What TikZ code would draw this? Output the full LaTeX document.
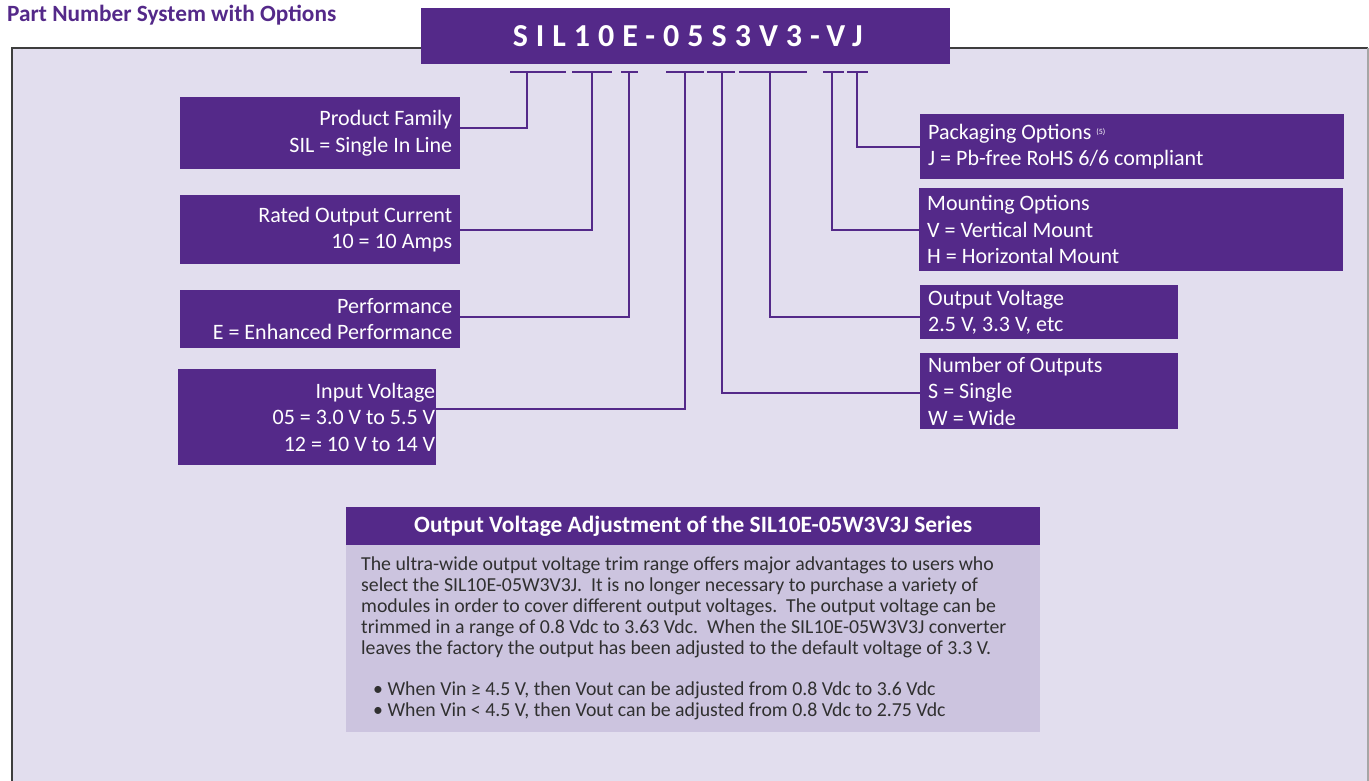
\documentclass[tikz,border=0pt]{standalone}
\usepackage{fontspec}
\setmainfont{Carlito}
\definecolor{pnpurple}{HTML}{542989}
\definecolor{pnbg}{HTML}{E2DEEE}
\definecolor{pnbody}{HTML}{CCC4DF}
\definecolor{pnframe}{HTML}{3E3E3E}
\definecolor{pntext}{HTML}{303030}
\newcommand{\boxfont}{\fontsize{22}{26.5}\selectfont}
\begin{document}
\begin{tikzpicture}[x=1pt,y=-1pt,
  conn/.style={draw=pnpurple, line width=2.4pt},
  lbox/.style={fill=pnpurple, text=white, font=\boxfont, align=right, anchor=north west, inner xsep=8pt, inner ysep=0pt,
    execute at begin node={\spaceskip=\fontdimen2\font\xspaceskip=\fontdimen2\font\relax}},
  rbox/.style={fill=pnpurple, text=white, font=\boxfont, align=left, anchor=north west, inner xsep=8pt, inner ysep=0pt,
    execute at begin node={\spaceskip=\fontdimen2\font\xspaceskip=\fontdimen2\font\relax}}]
\useasboundingbox (0,0) rectangle (1369,780);
% frame
\begin{scope}
\clip (0,0) rectangle (1369,780);
\fill[pnbg] (12,48) rectangle (1368,800);
\draw[pnframe, line width=2.6pt] (12,800) -- (12,48) -- (1368,48);
\draw[gray!70, line width=1.3pt] (1368,48) -- (1368,800);
\end{scope}
% title
\node[anchor=west, inner sep=0, text=pnpurple, font=\bfseries\fontsize{23.3}{26}\selectfont] (title) at (7,15) {Part Number System with Options};
% part number banner
\node[fill=pnpurple, text=white, anchor=north west, inner sep=0, minimum width=529pt, minimum height=56pt,
  font=\bfseries\fontsize{32}{36}\selectfont\addfontfeature{LetterSpace=25}] (pn) at (421,8) {\hspace*{4pt}SIL10E-05S3V3-VJ};
% underline coordinates
\coordinate (u1) at (527,72); \coordinate (u2) at (592,72); \coordinate (u3) at (629,72); \coordinate (u4) at (685,72);
\coordinate (u5) at (722,72); \coordinate (u6) at (770,72); \coordinate (u7) at (832,72); \coordinate (u8) at (857,72);
\coordinate (a1) at (510,72); \coordinate (b1) at (566,72);
\coordinate (a2) at (572,72); \coordinate (b2) at (612,72);
\coordinate (a3) at (621,72); \coordinate (b3) at (638,72);
\coordinate (a4) at (666,72); \coordinate (b4) at (704,72);
\coordinate (a5) at (707,72); \coordinate (b5) at (735,72);
\coordinate (a6) at (739,72); \coordinate (b6) at (807,72);
\coordinate (a7) at (823,72); \coordinate (b7) at (844,72);
\coordinate (a8) at (847,72); \coordinate (b8) at (868,72);
\foreach \i in {1,...,8} { \draw[conn] (a\i) -- (b\i); }
% left boxes
\node[lbox, minimum width=280pt, minimum height=72pt, text width=264pt] (pf) at (180,97) {Product Family\\SIL = Single In Line};
\node[lbox, minimum width=280pt, minimum height=69pt, text width=264pt] (rc) at (180,195) {Rated Output Current\\10 = 10 Amps};
\node[lbox, minimum width=280pt, minimum height=58pt, text width=264pt] (pe) at (180,290) {Performance\\E = Enhanced Performance};
\node[lbox, minimum width=258pt, minimum height=96pt, text width=256pt, inner xsep=1pt] (iv) at (178,369) {Input Voltage\\05 = 3.0 V to 5.5 V\\12 = 10 V to 14 V};
% right boxes
\node[rbox, minimum width=424pt, minimum height=65pt, text width=408pt] (po) at (920,114) {Packaging Options {\fontsize{8}{8}\selectfont\raisebox{5pt}{(5)}}\\J = Pb-free RoHS 6/6 compliant};
\node[rbox, minimum width=424pt, minimum height=83pt, text width=408pt] (mo) at (919,188) {Mounting Options\\V = Vertical Mount\\H = Horizontal Mount};
\node[rbox, minimum width=258pt, minimum height=54pt, text width=242pt] (ov) at (920,285) {Output Voltage\\2.5 V, 3.3 V, etc};
\node[rbox, minimum width=258pt, minimum height=76pt, text width=242pt] (no) at (920,353) {Number of Outputs\\S = Single\\W = Wide};
% connectors
\draw[conn] (u1) |- ([yshift=5pt]pf.east);
\draw[conn] (u2) |- (rc.east);
\draw[conn] (u3) |- ([yshift=2pt]pe.east);
\draw[conn] (u4) |- ([yshift=8pt]iv.east);
\draw[conn] (u8) |- (po.west);
\draw[conn] (u7) |- (mo.west);
\draw[conn] (u6) |- ([yshift=-5pt]ov.west);
\draw[conn] (u5) |- ([yshift=-2pt]no.west);
% bottom box
\node[fill=pnpurple, text=white, anchor=north west, inner sep=0, minimum width=694pt, minimum height=38pt,
  font=\bfseries\fontsize{23.4}{24}\selectfont] (adjh) at (346,507) {Output Voltage Adjustment of the SIL10E-05W3V3J Series};
\node[fill=pnbody, anchor=north west, inner sep=0, minimum width=694pt, minimum height=187pt] (adjb) at (346,545) {};
\node[text=pntext, anchor=west, inner sep=0pt, align=left, font=\fontsize{19.8}{21}\selectfont] (adjt) at ([xshift=15pt]adjb.west)
  {The ultra-wide output voltage trim range offers major advantages to users who\\
   select the SIL10E-05W3V3J.\ \ It is no longer necessary to purchase a variety of\\
   modules in order to cover different output voltages.\ \ The output voltage can be\\
   trimmed in a range of 0.8 Vdc to 3.63 Vdc.\ \ When the SIL10E-05W3V3J converter\\
   leaves the factory the output has been adjusted to the default voltage of 3.3 V.\\[20pt]
   \hspace*{12pt}\textbullet\ When Vin ≥ 4.5 V, then Vout can be adjusted from 0.8 Vdc to 3.6 Vdc\\
   \hspace*{12pt}\textbullet\ When Vin < 4.5 V, then Vout can be adjusted from 0.8 Vdc to 2.75 Vdc};
\end{tikzpicture}
\end{document}
